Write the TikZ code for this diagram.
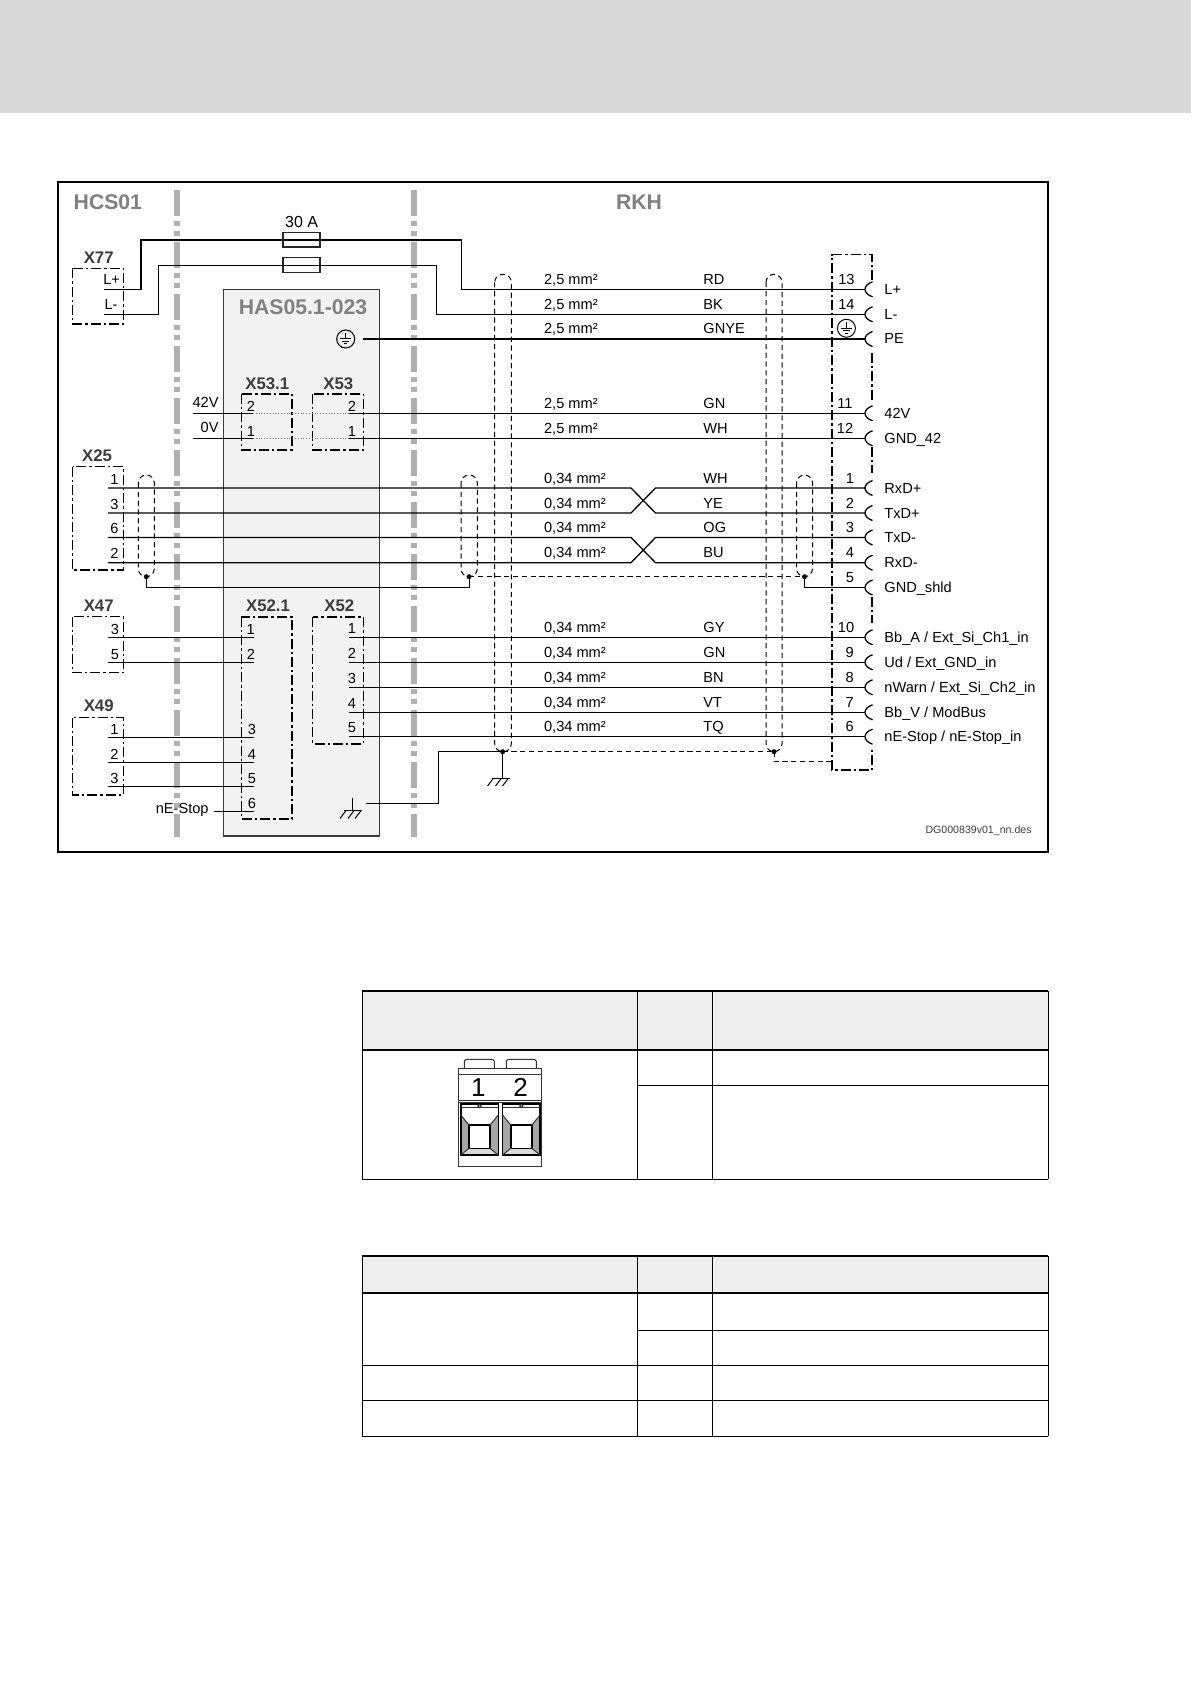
\documentclass[tikz,border=0pt]{standalone}
\usepackage{fontspec}
\setmainfont{Liberation Sans}
\definecolor{pagehead}{HTML}{D9D9D9}
\definecolor{hasgrey}{HTML}{F2F2F2}
\definecolor{sepgrey}{HTML}{B0B0B0}
\definecolor{titlegrey}{HTML}{808080}
\definecolor{namegrey}{HTML}{3C3C3C}
\definecolor{tabhead}{HTML}{EEEEEE}
\tikzset{
  wire/.style={black, line width=0.65pt},
  thinwire/.style={black, line width=0.5pt},
  linkwire/.style={black!55, line width=0.4pt, densely dotted},
  conbox/.style={black, line width=0.75pt, dash pattern=on 5pt off 1.5pt on 1.2pt off 1.5pt},
  shld/.style={black, line width=0.5pt, dash pattern=on 2.6pt off 1.8pt},
  sepline/.style={sepgrey, line width=2.8pt, dash pattern=on 13pt off 2.5pt on 2.5pt off 2.5pt on 2.5pt off 3pt},
  lbl/.style={inner sep=0pt, anchor=base, font=\fontsize{7.3}{9}\selectfont},
  wlbl/.style={lbl, anchor=base west},
  conname/.style={inner sep=0pt, anchor=base, text=namegrey, font=\fontsize{8.4}{10}\selectfont\bfseries},
  title/.style={inner sep=0pt, anchor=base, text=titlegrey, font=\fontsize{10.6}{12}\selectfont\bfseries},
  shdot/.style={circle, fill=black, inner sep=0pt, minimum size=2.5pt},
  tabthick/.style={black, line width=1pt},
  tabthin/.style={black, line width=0.5pt},
  plug/.style={black!80, line width=0.5pt},
}
\begin{document}
\begin{tikzpicture}[x=0.5pt,y=-0.5pt]
\useasboundingbox (0,0) rectangle (1191,1684);
\fill[pagehead] (0,0) rectangle (1191,113);
\draw[black, line width=1pt] (58,182) rectangle (1048,852);
\fill[hasgrey] (223.7,289.7) rectangle (379.3,836);
\draw[namegrey, line width=0.55pt] (223.7,289.7) rectangle (379.3,836);
\foreach \sx in {177,414}
  \draw[sepline] (\sx,190) -- (\sx,837);
\node[title, anchor=base west] (thcs) at (73.3,210) {HCS01};
\node[title] (trkh) at (639,210) {RKH};
\node[title] (thas) at (303,315) {HAS05.1-023};
\foreach \bx/\by/\ex/\ey/\lx/\ly/\nm in {72.7/268.3/123.3/324/98.7/264/X77, 72.7/466.7/123.3/570/97/461/X25, 72.7/616.7/123.3/672.7/98.7/611.5/X47, 72.7/717.7/123.3/795/98.7/711/X49, 241.3/394/292/450/267.3/389.5/X53.1, 312.7/394/363.3/450/338.3/389.5/X53, 241.3/617/292/819/268/611.5/X52.1, 312.7/617/363.3/744/339.3/611.5/X52} {
  \draw[conbox] (\bx,\by) rectangle (\ex,\ey);
  \node[conname] (n\nm) at (\lx,\ly) {\nm};
}
\draw[conbox] (872,280) -- (872,254.7) -- (832.2,254.7) -- (832.2,770) -- (872,770) -- (872,750);
\foreach \a/\b in {353/400,447/473,597/623}
  \draw[conbox] (872,\a) -- (872,\b);
\foreach \id/\y/\num/\numx/\sig in {lp/289.3/13/846.4/{L+}, lm/314.3/14/846.4/{L-}, pe/339//846.4/{PE}, vf/413.3/11/845/{42V}, gf/438.3/12/845/{GND\_42}, rp/488/1/850/{RxD+}, tp/513/2/850/{TxD+}, tm/537.5/3/850/{TxD-}, rm/562.7/4/850/{RxD-}, gs/587.5/5/850/{GND\_shld}, ba/637.3/10/846/{Bb\_A / Ext\_Si\_Ch1\_in}, ud/662.3/9/849.6/{Ud / Ext\_GND\_in}, nw/687.3/8/849.6/{nWarn / Ext\_Si\_Ch2\_in}, bv/712.3/7/849.6/{Bb\_V / ModBus}, ne/736.7/6/849.6/{nE-Stop / nE-Stop\_in}} {
  \coordinate (r\id) at (865,\y);
  \draw[wire] (872.5,\y-7.5) .. controls (862.5,\y-4) and (862.5,\y+4) .. (872.5,\y+7.5);
  \node[lbl] (k\id) at (\numx,\y-5) {\num};
  \node[wlbl] (s\id) at (884,\y+5) {\sig};
}
\foreach \y/\sz/\col [count=\wi] in {289.3/{2,5}/RD, 314.3/{2,5}/BK, 339/{2,5}/GNYE, 413.3/{2,5}/GN, 438.3/{2,5}/WH, 488/{0,34}/WH, 513/{0,34}/YE, 537.5/{0,34}/OG, 562.7/{0,34}/BU, 637.3/{0,34}/GY, 662.3/{0,34}/GN, 687.3/{0,34}/BN, 712.3/{0,34}/VT, 736.7/{0,34}/TQ} {
  \node[wlbl] (sz\wi) at (543.7,\y-5) {\sz~mm²};
  \node[wlbl] (cl\wi) at (703,\y-5) {\col};
}
\node[lbl] (f30) at (301.7,227.5) {\fontsize{8}{10}\selectfont 30 A};
\node[lbl] (plp) at (111.7,285) {L+};
\node[lbl] (plm) at (111,310) {L-};
\coordinate (x77a) at (104.3,289.3);
\coordinate (x77b) at (104.3,314.3);
\coordinate (ta) at (141,240);
\coordinate (tb) at (461.8,240);
\coordinate (tc) at (158.7,265.3);
\coordinate (td) at (436.7,265.3);
\draw[wire] (x77a) -| (ta) -- (tb) |- (rlp);
\draw[wire] (x77b) -| (tc) -- (td) |- (rlm);
\foreach \fy/\gy in {232.7/247.3,257.7/272.7}
  \draw[black!85, line width=0.8pt] (282.7,\fy) rectangle (320,\gy);
\foreach \ex/\ey in {345.7/339,846.4/328.3} {
  \draw[black, line width=0.5pt] (\ex,\ey) circle (9);
  \draw[black, line width=0.5pt] (\ex,\ey-6) -- (\ex,\ey) (\ex-5.5,\ey) -- (\ex+5.5,\ey) (\ex-3.5,\ey+2.5) -- (\ex+3.5,\ey+2.5) (\ex-1.5,\ey+5) -- (\ex+1.5,\ey+5);
}
\coordinate (pesrc) at (362.7,339);
\draw[wire] (pesrc) -- (rpe);
\coordinate (vin) at (193,413.3);
\coordinate (oin) at (193,438.3);
\node[lbl, anchor=base east] (l42) at (219,408) {42V};
\node[lbl, anchor=base east] (l0v) at (219,433) {0V};
\foreach \pid/\y/\t in {b/413.3/2,a/438.3/1} {
  \coordinate (x531\pid) at (253,\y);
  \coordinate (x53\pid) at (349,\y);
  \node[lbl] (pq\pid) at (251,\y-2) {\t};
  \node[lbl] (pr\pid) at (352,\y-2) {\t};
  \draw[linkwire] (x531\pid) -- (x53\pid);
}
\draw[thinwire] (vin) -- (x531b);
\draw[thinwire] (oin) -- (x531a);
\draw[wire] (x53b) -- (rvf);
\draw[thinwire] (x53a) -- (rgf);
\foreach \pid/\y/\t in {a/488/1,b/513/3,c/537.5/6,d/562.7/2} {
  \coordinate (x25\pid) at (108,\y);
  \node[lbl] (px\pid) at (114.5,\y-4) {\t};
}
\coordinate (cra) at (631,0);
\coordinate (crb) at (655.5,0);
\draw[wire] (x25a) -- (x25a -| cra) -- (x25b -| crb) -- (rtp);
\draw[wire] (x25b) -- (x25b -| cra) -- (x25a -| crb) -- (rrp);
\draw[wire] (x25c) -- (x25c -| cra) -- (x25d -| crb) -- (rrm);
\draw[wire] (x25d) -- (x25d -| cra) -- (x25c -| crb) -- (rtm);
\foreach \pid/\y/\t in {a/637.3/3,b/662.3/5} {
  \coordinate (x47\pid) at (108,\y);
  \node[lbl] (py\pid) at (115,\y-3) {\t};
}
\foreach \pid/\y/\t in {a/737/1,b/762/2,c/786.7/3} {
  \coordinate (x49\pid) at (108,\y);
  \node[lbl] (pz\pid) at (114.5,\y-3) {\t};
}
\foreach \pid/\y/\t/\px in {a/637.3/1/250.7,b/662.3/2/251,c/737/3/252,d/762/4/252,e/786.7/5/252,f/811.7/6/252} {
  \coordinate (x521\pid) at (254,\y);
  \node[lbl] (pu\pid) at (\px,\y-3) {\t};
}
\node[lbl, anchor=base east] (lne) at (209,813) {nE-Stop};
\coordinate (nestop) at (214,811.7);
\foreach \from/\to in {x47a/x521a,x47b/x521b,x49a/x521c,x49b/x521d,x49c/x521e,nestop/x521f}
  \draw[thinwire] (\from) -- (\to);
\foreach \pid/\y/\t/\to in {a/637.3/1/rba,b/662.3/2/rud,c/687.3/3/rnw,d/712.3/4/rbv,e/736.7/5/rne} {
  \coordinate (x52\pid) at (349.3,\y);
  \node[lbl] (pv\pid) at (352,\y-4) {\t};
  \draw[wire] (x52\pid) -- (\to);
}
\draw[shld, rounded corners=4pt] (138.3,475) rectangle (154.3,576.7);
\draw[shld, rounded corners=4pt] (461,475) rectangle (477.3,576.7);
\draw[shld, rounded corners=4pt] (796.6,475) rectangle (812.5,576.7);
\draw[shld, rounded corners=4pt] (494.7,274.3) rectangle (511.3,751.7);
\draw[shld, rounded corners=4pt] (766,274.3) rectangle (782,751.7);
\node[shdot] (da) at (146.3,576.7) {};
\node[shdot] (db) at (469,576.7) {};
\node[shdot] (dc) at (804.5,576.7) {};
\node[shdot] (dd) at (502.6,751.7) {};
\node[shdot] (de) at (774,751.7) {};
\coordinate (boxfoot) at (832.2,761);
\draw[thinwire] (da.center) |- (db.center |- rgs) -- (db.center);
\draw[thinwire] (dc.center) |- (rgs);
\draw[shld] (db.center) -- (dc.center);
\draw[shld] (dd.center) -- (de.center);
\draw[shld] (de.center) |- (boxfoot);
\coordinate (gnda) at (366,803.3);
\draw[thinwire] (dd.center) -- ++(-64.6,0) |- (gnda);
\draw[thinwire] (dd.center) -- (502.6,778);
\draw[thinwire] (352,798) -- (352,810.5);
\foreach \gx/\gy in {344/810.5,491.5/778} {
  \draw[thinwire] (\gx,\gy) -- (\gx+18,\gy);
  \foreach \tk in {2,10,17}
    \draw[thinwire] (\gx+\tk,\gy) -- (\gx+\tk-6,\gy+8);
}
\node[wlbl, font=\fontsize{5.3}{6}\selectfont, text=namegrey, anchor=base east] (dgn) at (1032,833) {DG000839v01\_nn.des};
\fill[tabhead] (362.4,991) rectangle (1048,1050);
\fill[tabhead] (362.4,1256) rectangle (1048,1292.7);
\draw[tabthick] (362.4,991) -- (1048,991);
\draw[tabthick] (362.4,1050) -- (1048,1050);
\draw[tabthick] (362.4,1256) -- (1048,1256);
\draw[tabthick] (362.4,1292.7) -- (1048,1292.7);
\draw[tabthin] (637,1085.3) -- (1048,1085.3);
\draw[tabthin] (362.4,1179.3) -- (1048,1179.3);
\draw[tabthin] (637,1330.3) -- (1048,1330.3);
\draw[tabthin] (362.4,1365.3) -- (1048,1365.3);
\draw[tabthin] (362.4,1400.3) -- (1048,1400.3);
\draw[tabthin] (362.4,1436) -- (1048,1436);
\foreach \tx in {362.4,637,712,1048} {
  \draw[tabthin] (\tx,991) -- (\tx,1179.3);
  \draw[tabthin] (\tx,1256) -- (\tx,1436);
}
\draw[plug] (458.3,1068.3) rectangle (541.7,1166);
\draw[plug] (458.3,1074) -- (541.7,1074);
\draw[plug] (458.3,1100) -- (541.7,1100);
\draw[plug] (458.3,1102) -- (541.7,1102);
\foreach \tx in {464.3,506.3}
  \draw[plug] (\tx,1068.3) -- (\tx,1061) -- (\tx+2,1059.3) -- (\tx+28,1059.3) -- (\tx+30,1061) -- (\tx+30,1068.3);
\node[inner sep=0pt, anchor=base, font=\fontsize{13}{15}\selectfont] (pin1) at (478.3,1096) {1};
\node[inner sep=0pt, anchor=base, font=\fontsize{13}{15}\selectfont] (pin2) at (520.7,1096) {2};
\foreach \ox in {0,41.8} {
  \fill[black!35] (460.7+\ox,1115) -- (469+\ox,1125) -- (469+\ox,1148.3) -- (460.7+\ox,1155) -- cycle;
  \fill[black!35] (498.3+\ox,1115) -- (490+\ox,1125) -- (490+\ox,1148.3) -- (498.3+\ox,1155) -- cycle;
  \fill[black!15] (460.7+\ox,1155) -- (469+\ox,1148.3) -- (490+\ox,1148.3) -- (498.3+\ox,1155) -- cycle;
  \draw[black, line width=0.8pt] (460.7+\ox,1104) rectangle (498.3+\ox,1155);
  \draw[black, line width=0.8pt] (469+\ox,1125) rectangle (490+\ox,1148.3);
  \draw[plug] (460.7+\ox,1107.5) -- (498.3+\ox,1107.5);
  \draw[plug] (460.7+\ox,1115) -- (469+\ox,1125);
  \draw[plug] (498.3+\ox,1115) -- (490+\ox,1125);
  \draw[plug] (460.7+\ox,1155) -- (469+\ox,1148.3);
  \draw[plug] (498.3+\ox,1155) -- (490+\ox,1148.3);
  \draw[plug] (479.5+\ox,1106) circle (1.6);
}
\end{tikzpicture}
\end{document}
